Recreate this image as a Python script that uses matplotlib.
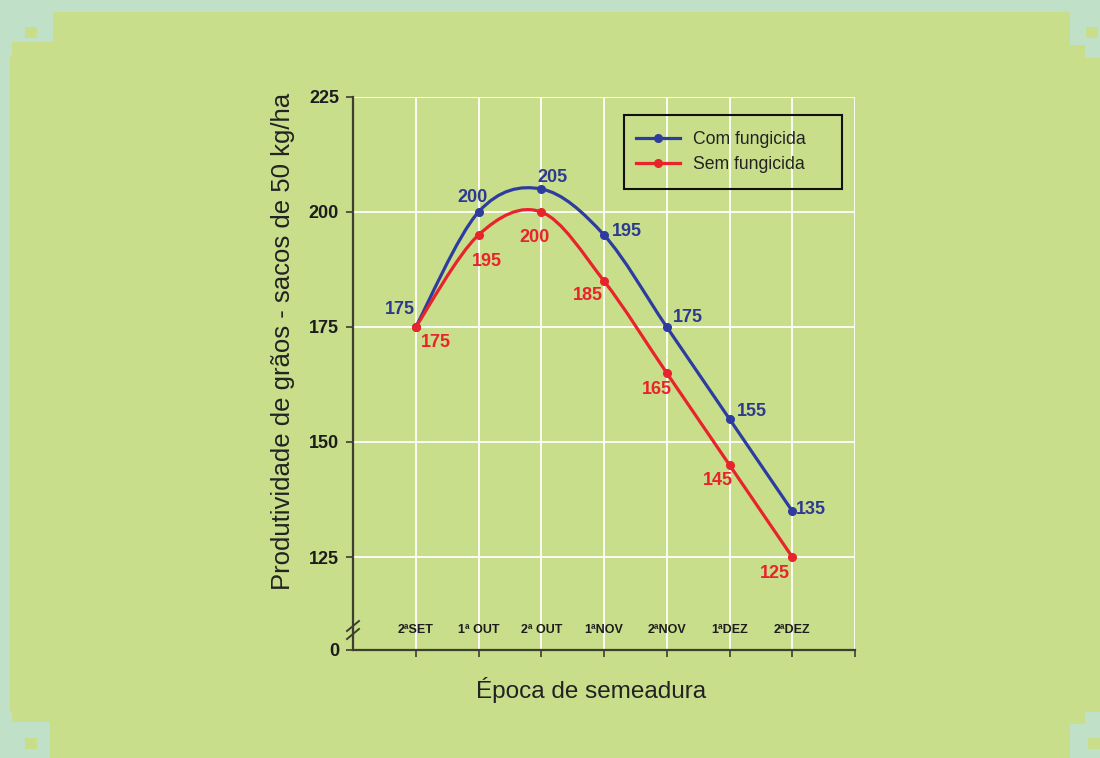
import numpy as np
import matplotlib
matplotlib.use("Agg")
import matplotlib.pyplot as plt
from matplotlib.path import Path
from matplotlib.patches import PathPatch, Rectangle
from matplotlib.lines import Line2D

plt.rcParams['font.family'] = ['Liberation Sans', 'DejaVu Sans']

# sowing dates and yields (bags of 50 kg/ha)
epocas = ['2ªSET', '1ª OUT', '2ª OUT', '1ªNOV', '2ªNOV', '1ªDEZ', '2ªDEZ']
com_fungicida = [175, 200, 205, 195, 175, 155, 135]
sem_fungicida = [175, 195, 200, 185, 165, 145, 125]
yticks = [125, 150, 175, 200, 225]

# label offsets in pixels (dx, dy)
off_com = [(-16, 17), (-6, 14), (11, 12), (23, 3), (21, 9), (22, 7), (19, 1)]
off_sem = [(20, -16), (8, -27), (-7, -26), (-16, -15), (-10, -17), (-12, -16), (-17, -17)]

BLUE = '#2d3c9e'
BLUE_TXT = '#2e3a8f'
RED = '#e8232b'
GREEN = '#c8de8a'
TEAL = '#c0e0c8'
W, H = 1100, 758


def smooth_path(xs, ys):
    # Catmull-Rom style cubic segments through every point
    pts = np.column_stack([xs, ys]).astype(float)
    ext = np.vstack([pts[0], pts, pts[-1]])
    verts = [pts[0]]
    codes = [Path.MOVETO]
    for i in range(len(pts) - 1):
        p0, p1, p2, p3 = ext[i], ext[i + 1], ext[i + 2], ext[i + 3]
        verts += [p1 + (p2 - p0) / 6, p2 - (p3 - p1) / 6, p2]
        codes += [Path.CURVE4] * 3
    return Path(verts, codes)


def px_rect(x, y, w, h, color, **kw):
    kw.setdefault('facecolor', color)
    kw.setdefault('edgecolor', 'none')
    kw.setdefault('zorder', 0)
    return Rectangle((x / W, 1 - (y + h) / H), w / W, h / H, transform=fig.transFigure, **kw)


fig = plt.figure(figsize=(W / 100, H / 100), dpi=100, facecolor=TEAL)

# background panel with stepped corners
fig.add_artist(px_rect(10, 12, W - 10, H - 12, GREEN))
for (x, y, w, h) in [(0, 0, 53, 42), (0, 0, 12, 56), (1070, 0, 30, 45), (1085, 0, 15, 58),
                     (0, 722, 50, 36), (0, 712, 12, 46), (1070, 724, 30, 34), (1085, 712, 15, 46)]:
    fig.add_artist(px_rect(x, y, w, h, TEAL))
for (x, y) in [(25, 27), (1086, 27), (25, 738), (1088, 738)]:
    fig.add_artist(px_rect(x, y, 12, 11, GREEN))

ax = fig.add_axes([353 / W, 1 - 650 / H, (855 - 353) / W, (650 - 97) / H])
ax.set_facecolor('none')

ybreak = 125 - 25 * 93 / 115
x = np.arange(1, len(epocas) + 1)

ax.set_xlim(0, 8)
ax.set_ylim(ybreak, 225)
ax.set_xticks(np.arange(1, 9))
ax.set_xticklabels([])
ax.set_yticks([ybreak] + yticks)
ax.set_yticklabels(['0'] + [str(v) for v in yticks], fontsize=13, fontweight='bold', color='#1c1c1c')
ax.grid(True, color='white', lw=1.3)
ax.set_axisbelow(True)
for s in ['top', 'right']:
    ax.spines[s].set_visible(False)
for s in ['left', 'bottom']:
    ax.spines[s].set_color('#3e3e30')
    ax.spines[s].set_linewidth(1.6)
ax.tick_params(direction='out', length=5, width=1.2, color='#3e3e30', pad=5)

for vals, col in [(com_fungicida, BLUE), (sem_fungicida, RED)]:
    ax.add_patch(PathPatch(smooth_path(x, vals), facecolor='none', edgecolor=col, lw=2.3, zorder=3))
    ax.plot(x, vals, 'o', color=col, ms=5.5, zorder=4)

for xi, v, (dx, dy) in zip(x, com_fungicida, off_com):
    ax.annotate(str(v), (xi, v), xytext=(dx, dy), textcoords='offset pixels', ha='center', va='center',
                fontsize=13, fontweight='bold', color=BLUE_TXT)
for xi, v, (dx, dy) in zip(x, sem_fungicida, off_sem):
    ax.annotate(str(v), (xi, v), xytext=(dx, dy), textcoords='offset pixels', ha='center', va='center',
                fontsize=13, fontweight='bold', color=RED)

for xi, lab in zip(x, epocas):
    ax.text(xi, 109.1, lab, ha='center', va='center', fontsize=9, fontweight='bold', color='#1c1c1c')

# axis break marks
for yb in (626, 634):
    fig.add_artist(Line2D([347 / W, 359 / W], [1 - (yb + 5) / H, 1 - (yb - 5) / H],
                          transform=fig.transFigure, color='#3e3e30', lw=1.4))

# legend: entries without frame, box drawn separately
handles = [Line2D([], [], color=BLUE, lw=2.3, marker='o', ms=5.5),
           Line2D([], [], color=RED, lw=2.3, marker='o', ms=5.5)]
leg = ax.legend(handles, ['Com fungicida', 'Sem fungicida'], loc='center left',
                bbox_to_anchor=(636 / W, 1 - 152 / H), bbox_transform=fig.transFigure,
                fontsize=12.7, frameon=False, handlelength=2.5, handletextpad=0.74,
                borderpad=0, labelspacing=0.45, borderaxespad=0, numpoints=1)
for t in leg.get_texts():
    t.set_color('#222222')
fig.add_artist(px_rect(624, 115, 218, 74, 'none', facecolor='none', edgecolor='#111111',
                       lw=1.5, zorder=5))

fig.text(283 / W, 1 - 341 / H, 'Produtividade de grãos - sacos de 50 kg/ha', rotation=90,
         ha='center', va='center', fontsize=18.5, color='#222222')
fig.text(591 / W, 1 - 690 / H, 'Época de semeadura', ha='center', va='center', fontsize=17.5, color='#222222')

fig.savefig('out.png', dpi=100, facecolor=fig.get_facecolor())
